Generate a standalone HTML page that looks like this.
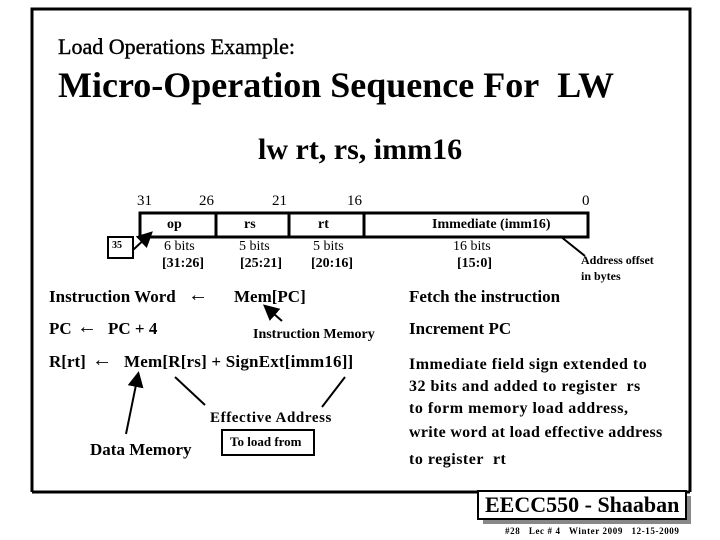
<!DOCTYPE html>
<html><head><meta charset="utf-8"><style>
body{margin:0;width:720px;height:540px;background:#fff;position:relative;overflow:hidden;font-family:"Liberation Serif",serif;color:#000}
.a{position:absolute;white-space:nowrap}
.b{font-weight:bold}
</style></head><body>
<svg class="a" style="left:0;top:0" width="720" height="540">
<defs><marker id="m" markerWidth="8" markerHeight="8" refX="6" refY="4" orient="auto"><path d="M0 0 L8 4 L0 8 Z" fill="#000"/></marker></defs>
<path d="M32 492 V9 H690 V492" fill="none" stroke="#000" stroke-width="3"/>
<line x1="32" y1="492" x2="478" y2="492" stroke="#000" stroke-width="3"/>
<line x1="686" y1="492" x2="690" y2="492" stroke="#000" stroke-width="3"/>
<rect x="483" y="496" width="208" height="28" fill="#888"/>
<rect x="478" y="491" width="208" height="28" fill="#fff" stroke="#000" stroke-width="2"/>
<rect x="140" y="213" width="448" height="24" fill="none" stroke="#000" stroke-width="3"/>
<line x1="216" y1="213" x2="216" y2="237" stroke="#000" stroke-width="3"/>
<line x1="289" y1="213" x2="289" y2="237" stroke="#000" stroke-width="3"/>
<line x1="364" y1="213" x2="364" y2="237" stroke="#000" stroke-width="3"/>
<rect x="108" y="237" width="25" height="21" fill="none" stroke="#000" stroke-width="2"/>
<line x1="133" y1="250" x2="150" y2="234" stroke="#000" stroke-width="2" marker-end="url(#m)"/>
<line x1="560" y1="236" x2="585" y2="256" stroke="#000" stroke-width="2"/>
<line x1="282" y1="321" x2="266" y2="307" stroke="#000" stroke-width="2" marker-end="url(#m)"/>
<line x1="126" y1="434" x2="138" y2="375" stroke="#000" stroke-width="2" marker-end="url(#m)"/>
<line x1="205" y1="405" x2="175" y2="377" stroke="#000" stroke-width="2"/>
<line x1="322" y1="407" x2="345" y2="377" stroke="#000" stroke-width="2"/>
<rect x="222" y="430" width="92" height="25" fill="none" stroke="#000" stroke-width="2"/>
</svg>
<div class="a" style="left:58px;top:34px;font-size:22px;-webkit-text-stroke:0.4px #000">Load Operations Example:</div>
<div class="a b" style="left:58px;top:64px;font-size:36px">Micro-Operation Sequence For&nbsp; LW</div>
<div class="a b" style="left:258px;top:133px;font-size:30px">lw rt, rs, imm16</div>
<div class="a" style="left:137px;top:193px;font-size:15px">31</div>
<div class="a" style="left:199px;top:193px;font-size:15px">26</div>
<div class="a" style="left:272px;top:193px;font-size:15px">21</div>
<div class="a" style="left:347px;top:193px;font-size:15px">16</div>
<div class="a" style="left:582px;top:193px;font-size:15px">0</div>
<div class="a b" style="left:167px;top:217px;font-size:14px">op</div>
<div class="a b" style="left:244px;top:217px;font-size:14px">rs</div>
<div class="a b" style="left:318px;top:217px;font-size:14px">rt</div>
<div class="a b" style="left:432px;top:217px;font-size:14px">Immediate (imm16)</div>
<div class="a b" style="left:112px;top:240px;font-size:10px">35</div>
<div class="a" style="left:164px;top:239px;font-size:14px">6 bits</div>
<div class="a" style="left:239px;top:239px;font-size:14px">5 bits</div>
<div class="a" style="left:313px;top:239px;font-size:14px">5 bits</div>
<div class="a" style="left:453px;top:239px;font-size:14px">16 bits</div>
<div class="a b" style="left:162px;top:256px;font-size:14px">[31:26]</div>
<div class="a b" style="left:240px;top:256px;font-size:14px">[25:21]</div>
<div class="a b" style="left:311px;top:256px;font-size:14px">[20:16]</div>
<div class="a b" style="left:457px;top:256px;font-size:14px">[15:0]</div>
<div class="a b" style="left:581px;top:252px;font-size:12px;line-height:16px">Address offset<br>in bytes</div>
<div class="a b" style="left:49px;top:287px;font-size:17px">Instruction Word</div>
<div class="a" style="left:188px;top:284px;font-size:20px">←</div>
<div class="a b" style="left:234px;top:287px;font-size:17px">Mem[PC]</div>
<div class="a b" style="left:49px;top:319px;font-size:17px">PC</div>
<div class="a" style="left:77px;top:316px;font-size:20px">←</div>
<div class="a b" style="left:108px;top:319px;font-size:17px">PC + 4</div>
<div class="a b" style="left:253px;top:327px;font-size:14px">Instruction Memory</div>
<div class="a b" style="left:49px;top:352px;font-size:17px">R[rt]</div>
<div class="a" style="left:92px;top:349px;font-size:20px">←</div>
<div class="a b" style="left:124px;top:352px;font-size:17px;letter-spacing:0.2px">Mem[R[rs] + SignExt[imm16]]</div>
<div class="a b" style="left:210px;top:410px;font-size:15px;letter-spacing:0.6px">Effective Address</div>
<div class="a b" style="left:230px;top:434px;font-size:13px">To load from</div>
<div class="a b" style="left:90px;top:440px;font-size:17px">Data Memory</div>
<div class="a b" style="left:409px;top:287px;font-size:17px">Fetch the instruction</div>
<div class="a b" style="left:409px;top:319px;font-size:17px">Increment PC</div>
<div class="a b" style="left:409px;top:354px;font-size:16px;line-height:22px;letter-spacing:0.5px">Immediate field sign extended to<br>32 bits and added to register&nbsp; rs<br>to form memory load address,</div>
<div class="a b" style="left:409px;top:424px;font-size:16px;letter-spacing:0.3px">write word at load effective address</div>
<div class="a b" style="left:409px;top:451px;font-size:16px;letter-spacing:0.5px">to register&nbsp; rt</div>
<div class="a b" style="left:485px;top:492px;font-size:22px">EECC550 - Shaaban</div>
<div class="a b" style="left:505px;top:526px;font-size:9px;letter-spacing:0.6px">#28 &nbsp; Lec # 4 &nbsp; Winter 2009 &nbsp; 12-15-2009</div>
</body></html>
